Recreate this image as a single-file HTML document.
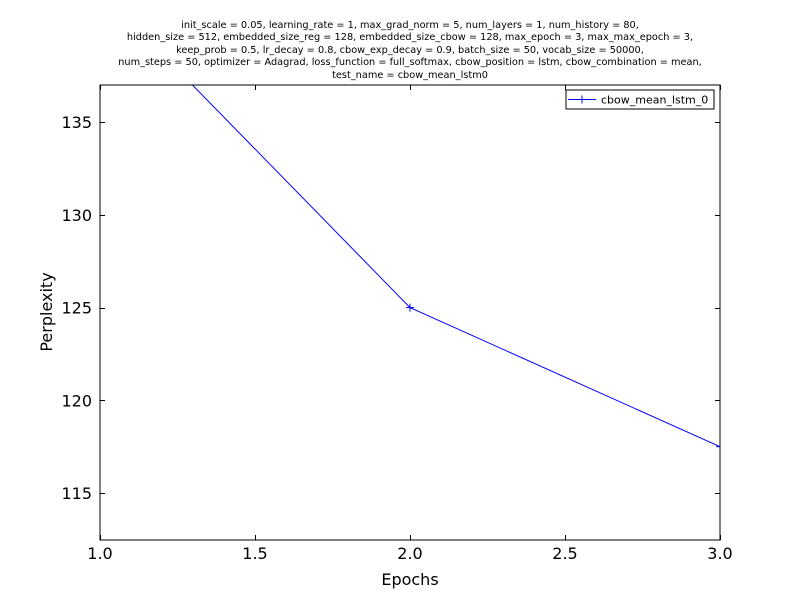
<!DOCTYPE html>
<html><head><meta charset="utf-8"><style>
body{margin:0;background:#fff;}
svg text{font-family:"DejaVu Sans","Liberation Sans",sans-serif;}
</style></head><body>
<svg id="chart" width="800" height="600" xmlns="http://www.w3.org/2000/svg">
<rect width="800" height="600" fill="#fff"/>
<g id="title" font-size="9.75" text-anchor="middle" fill="#000">
<text x="410" y="28">init_scale = 0.05, learning_rate = 1, max_grad_norm = 5, num_layers = 1, num_history = 80,</text>
<text x="410" y="40">hidden_size = 512, embedded_size_reg = 128, embedded_size_cbow = 128, max_epoch = 3, max_max_epoch = 3,</text>
<text x="410" y="53">keep_prob = 0.5, lr_decay = 0.8, cbow_exp_decay = 0.9, batch_size = 50, vocab_size = 50000,</text>
<text x="410" y="65">num_steps = 50, optimizer = Adagrad, loss_function = full_softmax, cbow_position = lstm, cbow_combination = mean,</text>
<text x="410" y="78">test_name = cbow_mean_lstm0</text>
</g>
<defs><clipPath id="clip"><rect x="100" y="85" width="620" height="455"/></clipPath></defs>
<g id="ticks"></g>
<g id="series" clip-path="url(#clip)"></g>
<rect x="100" y="85" width="620" height="455" fill="none" stroke="#000" stroke-width="1"/>
<text x="410" y="585" font-size="16" text-anchor="middle">Epochs</text>
<text transform="translate(52,312) rotate(-90)" font-size="16" text-anchor="middle">Perplexity</text>
<g>
<rect x="566" y="90" width="148" height="19" fill="#fff" stroke="#000" stroke-width="1"/>
<line x1="568" y1="99.5" x2="596" y2="99.5" stroke="#0000ff"/>
<line x1="578" y1="99.5" x2="586" y2="99.5" stroke="#0000ff"/>
<line x1="582" y1="95.5" x2="582" y2="103.5" stroke="#0000ff"/>
<text x="601" y="103.5" font-size="11">cbow_mean_lstm_0</text>
</g>
</svg>
<script>
const epochs = [1, 2, 3];
const perplexity = [142.1, 125.0, 117.5];
const xTicks = [1.0, 1.5, 2.0, 2.5, 3.0];
const xTickLabels = ["1.0", "1.5", "2.0", "2.5", "3.0"];
const yTicks = [115, 120, 125, 130, 135];
const yTickLabels = ["115", "120", "125", "130", "135"];
const NS = "http://www.w3.org/2000/svg";
const X0=100, X1=720, Y0=540, Y1=85, xmin=1, xmax=3, ymin=112.47, ymax=137;
const xs = v => X0 + (v - xmin) / (xmax - xmin) * (X1 - X0);
const ys = v => Y0 - (v - ymin) / (ymax - ymin) * (Y0 - Y1);
function mk(tag, attrs, parent){const e=document.createElementNS(NS,tag);for(const k in attrs)e.setAttribute(k,attrs[k]);parent.appendChild(e);return e;}
const tg = document.getElementById('ticks');
xTicks.forEach((t,i)=>{
  const x = Math.round(xs(t))+0.5;
  mk('line',{x1:x,y1:Y0,x2:x,y2:Y0-5,stroke:'#000'},tg);
  mk('line',{x1:x,y1:Y1,x2:x,y2:Y1+5,stroke:'#000'},tg);
  const tx = mk('text',{x:xs(t),y:559,'font-size':16,'text-anchor':'middle'},tg);
  tx.textContent = xTickLabels[i];
  
  
});
yTicks.forEach((t,i)=>{
  const y = Math.round(ys(t))+0.5;
  mk('line',{x1:X0,y1:y,x2:X0+5,y2:y,stroke:'#000'},tg);
  mk('line',{x1:X1,y1:y,x2:X1-5,y2:y,stroke:'#000'},tg);
  const tx = mk('text',{x:92,y:ys(t)+6,'font-size':16,'text-anchor':'end'},tg);
  tx.textContent = yTickLabels[i];
  
  
});
const sg = document.getElementById('series');
const pl = mk('polyline',{points:epochs.map((e,i)=>xs(e)+','+ys(perplexity[i])).join(' '),fill:'none',stroke:'#0000ff','stroke-width':1},sg);


epochs.forEach((e,i)=>{
  const x=xs(e), y=ys(perplexity[i]);
  const g = mk('g',{stroke:'#0000ff'},sg);
  
  
  mk('line',{x1:x-4,y1:y,x2:x+4,y2:y},g);
  mk('line',{x1:x,y1:y-4,x2:x,y2:y+4},g);
});
</script>
</body></html>
